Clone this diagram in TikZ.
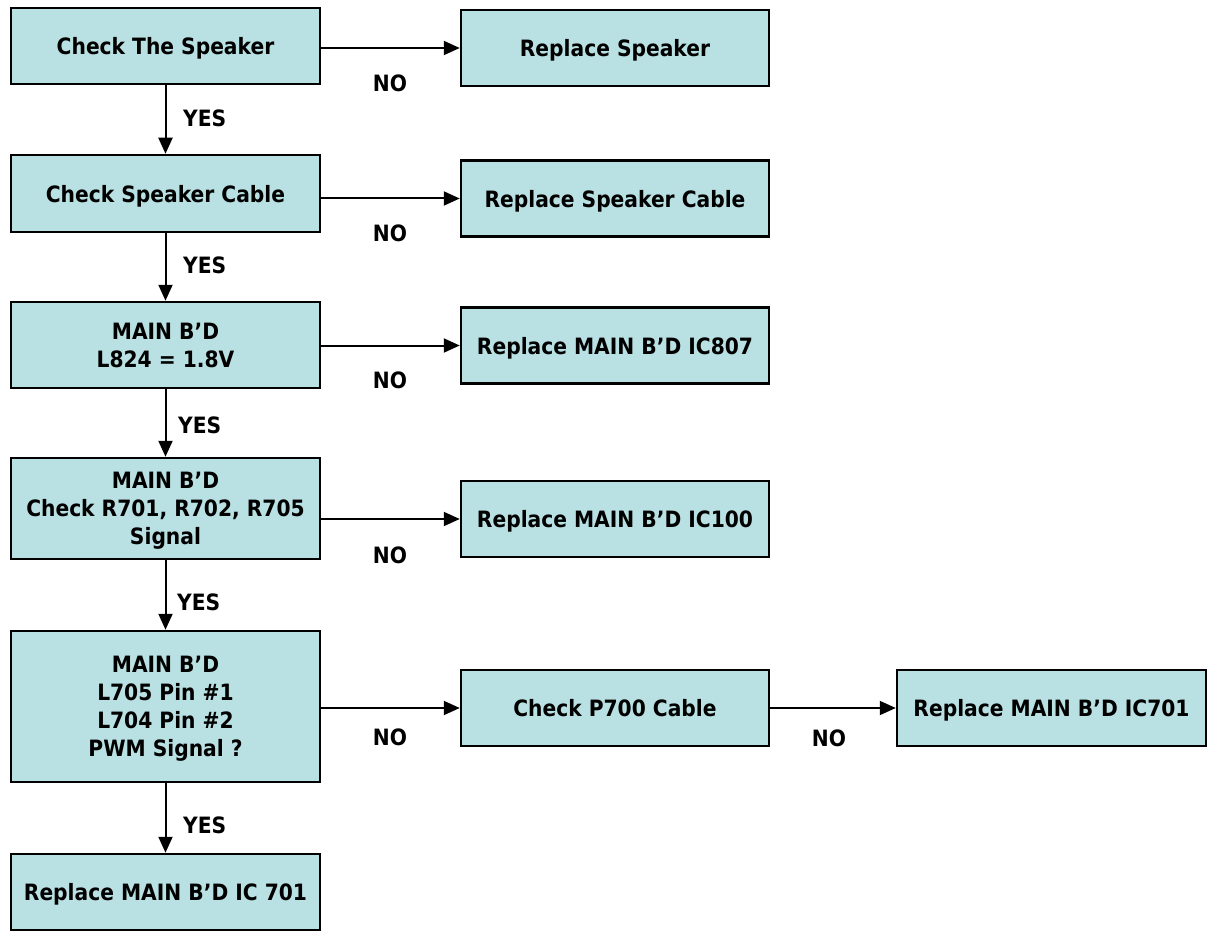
\documentclass[tikz,border=0pt]{standalone}
\usepackage{fontspec}
\setmainfont{DejaVu Sans Condensed}
\usetikzlibrary{arrows.meta}
\definecolor{boxfill}{RGB}{185,224,226}

\begin{document}
\begin{tikzpicture}[
    x=1pt, y=-1pt,
    every node/.style={font=\fontsize{22.5}{28}\selectfont\bfseries},
    >={Triangle[length=16pt, width=14pt]},
    block/.style={draw, line width=2.5pt, fill=boxfill, minimum width=309pt, align=center, inner sep=0pt, text depth=0pt},
    rblock/.style={block, minimum width=308pt, minimum height=76pt},
    flow/.style={->, line width=2pt},
    lbl/.style={inner sep=0pt},
]
\useasboundingbox (0,0) rectangle (1211,931);

% --- Check column ---
\node[block, minimum height=76pt] (spk) at (165.5,46) {Check The Speaker};
\node[block, minimum height=77pt] (cab) at (165.5,193.5) {Check Speaker Cable};
\node[block, minimum height=86pt] (vol) at (165.5,345) {MAIN B’D\\L824 = 1.8V};
\node[block, minimum height=101pt] (sig) at (165.5,508.5) {MAIN B’D\\Check R701, R702, R705\\Signal};
\node[block, minimum height=151pt] (pwm) at (165.5,706.5) {MAIN B’D\\L705 Pin \#1\\L704 Pin \#2\\PWM Signal ?};
\node[block, minimum height=76pt] (main701) at (165.5,892) {Replace MAIN B’D IC 701};

% --- Replace column ---
\node[rblock] (rspk) at (615,48) {Replace Speaker};
\node[rblock] (rcab) at (615,198.5) {Replace Speaker Cable};
\node[rblock] (ic807) at (615,345.5) {Replace MAIN B’D IC807};
\node[rblock] (ic100) at (615,519) {Replace MAIN B’D IC100};
\node[rblock] (p700) at (615,708) {Check P700 Cable};
\node[rblock, minimum width=309pt] (ic701) at (1051.5,708) {Replace MAIN B’D IC701};

% --- YES arrows ---
\draw[flow] (spk) -- (cab);
\draw[flow] (cab) -- (vol);
\draw[flow] (vol) -- (sig);
\draw[flow] (sig) -- (pwm);
\draw[flow] (pwm) -- (main701);

% --- NO arrows ---
\draw[flow] (spk.east |- rspk) -- (rspk.west);
\draw[flow] (cab.east |- rcab) -- (rcab.west);
\draw[flow] (vol.east |- ic807) -- (ic807.west);
\draw[flow] (sig.east |- ic100) -- (ic100.west);
\draw[flow] (pwm.east |- p700) -- (p700.west);
\draw[flow] (p700) -- (ic701);

% --- Labels ---
\node[lbl, anchor=west] (yes1) at (183,118) {YES};
\node[lbl, anchor=west] (yes2) at (183,265) {YES};
\node[lbl, anchor=west] (yes3) at (178,425) {YES};
\node[lbl, anchor=west] (yes4) at (177,602) {YES};
\node[lbl, anchor=west] (yes5) at (183,825) {YES};
\node[lbl] (no1) at (390,83) {NO};
\node[lbl] (no2) at (390,233) {NO};
\node[lbl] (no3) at (390,380) {NO};
\node[lbl] (no4) at (390,555) {NO};
\node[lbl] (no5) at (390,737) {NO};
\node[lbl] (no6) at (829,738) {NO};

\end{tikzpicture}
\end{document}
